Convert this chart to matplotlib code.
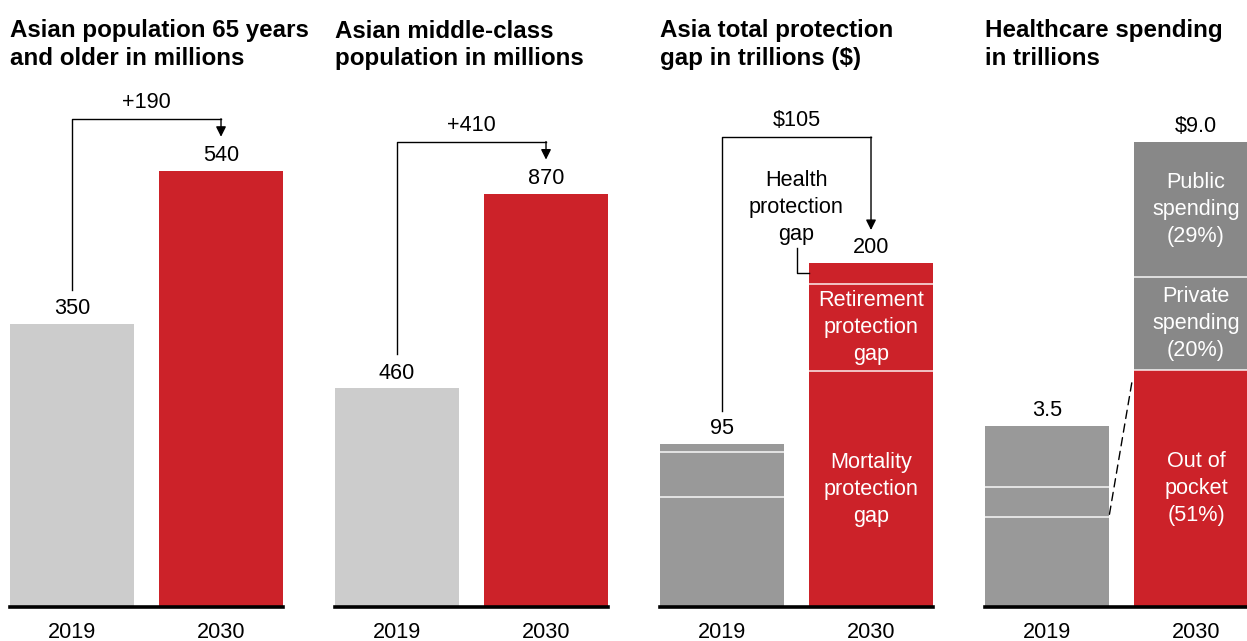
import matplotlib.pyplot as plt

plt.rcParams['font.family'] = ['Liberation Sans', 'DejaVu Sans']

# ---DATA------------------------------
years = ['2019', '2030']

elderly = [350, 540]
elderly_change = '+190'

middle_class = [460, 870]
middle_class_change = '+410'

# protection gap segments, bottom to top: mortality, retirement, health
gap_mortality = [64, 137]
gap_retirement = [26, 51]
gap_health = [5, 12]
gap_totals = [95, 200]
gap_change = r'\$105'

# healthcare spending segments, bottom to top: out of pocket, private, public
spend_pocket = [1.74, 4.59]
spend_private = [0.59, 1.80]
spend_public = [1.17, 2.61]
spend_totals = [3.5, 9.0]
spend_labels = ['3.5', r'\$9.0']

titles = ['Asian population 65 years\nand older in millions',
          'Asian middle-class\npopulation in millions',
          'Asia total protection\ngap in trillions (\\$)',
          'Healthcare spending\nin trillions']

# ---STYLE------------------------------
LIGHT = '#cccccc'
MID = '#999999'
DARK = '#888888'
RED = '#cc2229'
FS = 15.6
LS = 1.37

W, H = 1247, 641
BASE = 607      # baseline, px from top
AX_TOP = 90
AX_H = BASE - AX_TOP
panel_left = [10, 335, 660, 985]
bar_w = 0.832
ylims = [640, 1088, 300.6, 10.0]

fig = plt.figure(figsize=(W / 100, H / 100), dpi=100)

axes = []
for i, left in enumerate(panel_left):
    ax = fig.add_axes([left / W, (H - BASE) / H, 273 / W, AX_H / H])
    ax.set_xlim(-bar_w / 2, 1 + bar_w / 2)
    ax.set_ylim(0, ylims[i])
    for s in ['top', 'left', 'right']:
        ax.spines[s].set_visible(False)
    ax.spines['bottom'].set_linewidth(2.6)
    ax.spines['bottom'].set_zorder(5)
    ax.set_yticks([])
    ax.set_xticks([0, 1])
    ax.set_xticklabels(years)
    ax.tick_params(axis='x', length=0, pad=11, labelsize=FS)
    # second title line sits on the baseline
    fig.text(left / W, 1 - 65 / H, titles[i], fontsize=17.4, fontweight='bold',
             ha='left', va='baseline', linespacing=1.25)
    axes.append(ax)


def k(ax):
    # data units per pixel
    return ax.get_ylim()[1] / AX_H


def value_label(ax, x, v, text):
    ax.annotate(text, (x, v), xytext=(0, 3.5), textcoords='offset points',
                ha='center', va='bottom', fontsize=FS)


def bracket(ax, v0, v1, label, top_px, low_px=34, tip_px=34):
    top = v1 + top_px * k(ax)
    ax.plot([0, 0, 1], [v0 + low_px * k(ax), top, top], color='black', lw=1)
    ax.annotate('', xy=(1, v1 + tip_px * k(ax)), xytext=(1, top),
                arrowprops=dict(arrowstyle='-|>', color='black', lw=1,
                                shrinkA=0, shrinkB=0, mutation_scale=15))
    ax.annotate(label, (0.5, top), xytext=(0, 4), textcoords='offset points',
                ha='center', va='bottom', fontsize=FS)


def stacked(ax, x, segments, colors, texts=None):
    bottom = 0
    bounds = []
    for j, (seg, c) in enumerate(zip(segments, colors)):
        ax.bar(x, seg, bottom=bottom, width=bar_w, color=c, zorder=2)
        if texts and texts[j]:
            ax.text(x, bottom + seg / 2, texts[j], color='white', fontsize=FS,
                    ha='center', va='center', linespacing=LS, zorder=4)
        bottom += seg
        bounds.append(bottom)
    ax.hlines(bounds[:-1], x - bar_w / 2, x + bar_w / 2, color='white',
              lw=1.2, alpha=0.85, zorder=3)


# ------PANEL 1-----------------------
ax = axes[0]
ax.bar([0, 1], elderly, width=bar_w, color=[LIGHT, RED], zorder=2)
for x, v in zip([0, 1], elderly):
    value_label(ax, x, v, str(v))
bracket(ax, elderly[0], elderly[1], elderly_change, 52)

# ------PANEL 2-----------------------
ax = axes[1]
ax.bar([0, 1], middle_class, width=bar_w, color=[LIGHT, RED], zorder=2)
for x, v in zip([0, 1], middle_class):
    value_label(ax, x, v, str(v))
bracket(ax, middle_class[0], middle_class[1], middle_class_change, 52)

# ------PANEL 3-----------------------
ax = axes[2]
stacked(ax, 0, [gap_mortality[0], gap_retirement[0], gap_health[0]], [MID] * 3)
stacked(ax, 1, [gap_mortality[1], gap_retirement[1], gap_health[1]], [RED] * 3,
        ['Mortality\nprotection\ngap', 'Retirement\nprotection\ngap', None])
for x, v in zip([0, 1], gap_totals):
    value_label(ax, x, v, str(v))
bracket(ax, gap_totals[0], gap_totals[1], gap_change, 126, low_px=33, tip_px=33)

# health gap callout with leader line
health_mid = gap_mortality[1] + gap_retirement[1] + gap_health[1] / 2
ax.text(0.5, health_mid + 66 * k(ax), 'Health\nprotection\ngap', fontsize=FS,
        ha='center', va='center', linespacing=LS)
ax.plot([0.503, 0.503, 1 - bar_w / 2], [health_mid + 25 * k(ax), health_mid, health_mid],
        color='black', lw=1)

# ------PANEL 4-----------------------
ax = axes[3]
stacked(ax, 0, [spend_pocket[0], spend_private[0], spend_public[0]], [MID] * 3)
stacked(ax, 1, [spend_pocket[1], spend_private[1], spend_public[1]], [RED, DARK, DARK],
        ['Out of\npocket\n(51%)', 'Private\nspending\n(20%)', 'Public\nspending\n(29%)'])
for x, v, t in zip([0, 1], spend_totals, spend_labels):
    value_label(ax, x, v, t)
ax.annotate('', xy=(1 - bar_w / 2, spend_pocket[1]), xytext=(bar_w / 2, spend_pocket[0]),
            arrowprops=dict(arrowstyle='-', color='black', lw=1, linestyle=(0, (6, 4)),
                            shrinkA=2, shrinkB=9))

fig.savefig('out.png', dpi=100)
